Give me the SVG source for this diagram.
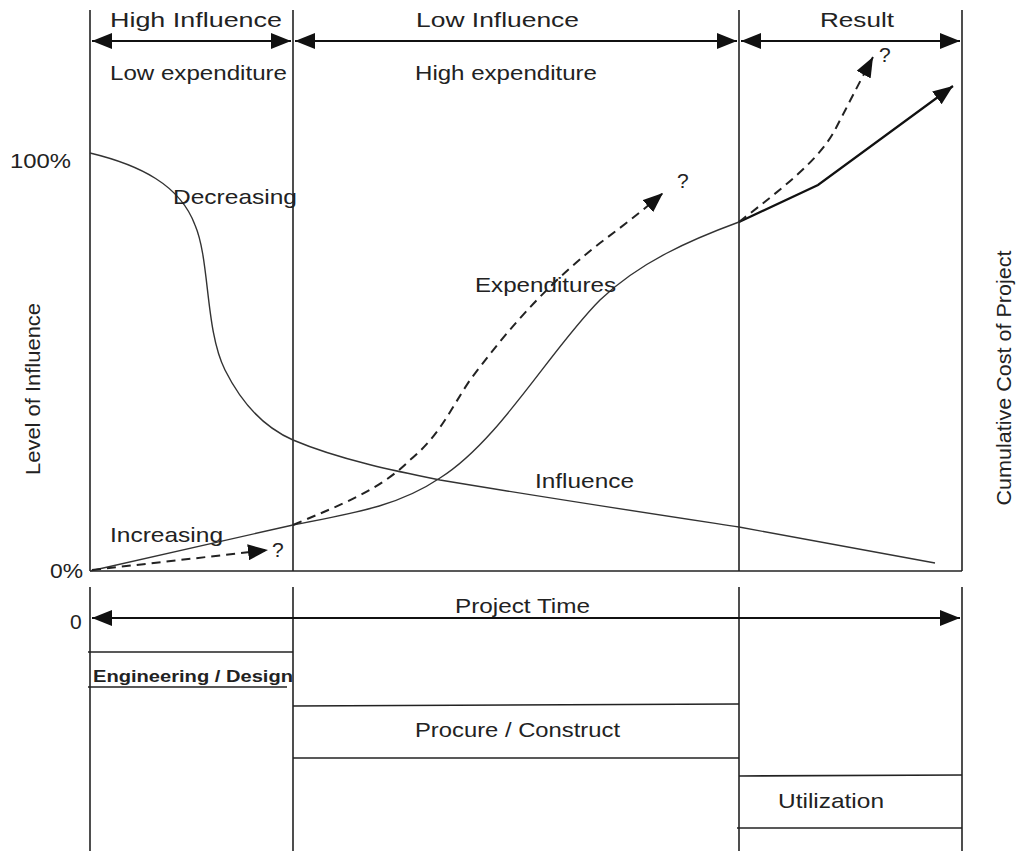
<svg xmlns="http://www.w3.org/2000/svg" width="1030" height="851" viewBox="0 0 1030 851">
<style>
text{font-family:"Liberation Sans",Arial,sans-serif;fill:#222;}
.lbl{font-size:21px;}
.frame{stroke:#222;stroke-width:1.6;fill:none;}
.curve{stroke:#333;stroke-width:1.4;fill:none;}
.dash{stroke:#222;stroke-width:2;fill:none;stroke-dasharray:9 6;}
.arr{stroke:#111;stroke-width:2.2;fill:none;}
</style>
<defs>
<marker id="big" viewBox="0 0 10 10" refX="10" refY="5" markerWidth="20" markerHeight="16" orient="auto-start-reverse" markerUnits="userSpaceOnUse" preserveAspectRatio="none">
<path d="M0,0 L10,5 L0,10 Z" fill="#111"/>
</marker>
</defs>
<rect width="1030" height="851" fill="#fff"/>
<g id="frame">
<line class="frame" x1="90" y1="10" x2="90" y2="571" stroke="#555" stroke-width="2"/>
<line class="frame" x1="293" y1="10" x2="293" y2="571"/>
<line class="frame" x1="739" y1="10" x2="739" y2="571"/>
<line class="frame" x1="962" y1="10" x2="962" y2="571"/>
<line class="frame" x1="90" y1="571" x2="962" y2="571"/>
<line class="frame" x1="90" y1="587" x2="90" y2="851"/>
<line class="frame" x1="293" y1="587" x2="293" y2="851"/>
<line class="frame" x1="739" y1="587" x2="739" y2="851"/>
<line class="frame" x1="962" y1="587" x2="962" y2="851"/>
</g>
<g id="connectors">
<line class="arr" x1="92" y1="41" x2="291" y2="41" marker-start="url(#big)" marker-end="url(#big)"/>
<line class="arr" x1="295" y1="41" x2="737" y2="41" marker-start="url(#big)" marker-end="url(#big)"/>
<line class="arr" x1="741" y1="41" x2="960" y2="41" marker-start="url(#big)" marker-end="url(#big)"/>
<line class="arr" x1="92" y1="618" x2="960" y2="618" marker-start="url(#big)" marker-end="url(#big)"/>
</g>
<g id="influence-curve">
<path class="curve" d="M90,153 C140,165 180,185 195,225 C210,260 205,330 225,370 C245,410 270,430 293,440 C340,460 400,472 440,480 C560,500 680,518 739,527 L935,563"/>
</g>
<g id="expenditure-curve">
<path class="curve" d="M90,571 L293,525 C360,512 400,505 440,478 C500,440 550,350 600,300 C640,262 690,240 739,222"/>
<polyline class="arr" points="739,222 818,185 953,86" marker-end="url(#big)" stroke-width="2"/>
</g>
<g id="dashed-arrows">
<path class="dash" d="M92,570 L268,550" marker-end="url(#big)"/>
<path class="dash" d="M293,525 C340,505 380,490 410,460 C440,435 450,410 470,380 C500,340 540,290 600,243 C620,228 640,213 663,193" marker-end="url(#big)"/>
<path class="dash" d="M739,222 C780,190 820,160 836,128 C848,105 858,85 873,57" marker-end="url(#big)"/>
</g>
<g id="labels">
<text class="lbl" x="110" y="27" font-size="22" textLength="172" lengthAdjust="spacingAndGlyphs">High Influence</text>
<text class="lbl" x="416" y="27" font-size="22" textLength="163" lengthAdjust="spacingAndGlyphs">Low Influence</text>
<text class="lbl" x="820" y="27" font-size="22" textLength="74" lengthAdjust="spacingAndGlyphs">Result</text>
<text class="lbl" x="110" y="80" textLength="177" lengthAdjust="spacingAndGlyphs">Low expenditure</text>
<text class="lbl" x="415" y="80" textLength="182" lengthAdjust="spacingAndGlyphs">High expenditure</text>
<text class="lbl" x="10" y="168" textLength="61" lengthAdjust="spacingAndGlyphs">100%</text>
<text class="lbl" x="50" y="578" textLength="33" lengthAdjust="spacingAndGlyphs">0%</text>
<text class="lbl" x="70" y="629">0</text>
<text class="lbl" x="173" y="204" textLength="124" lengthAdjust="spacingAndGlyphs">Decreasing</text>
<text class="lbl" x="475" y="292" textLength="141" lengthAdjust="spacingAndGlyphs">Expenditures</text>
<text class="lbl" x="535" y="488" textLength="99" lengthAdjust="spacingAndGlyphs">Influence</text>
<text class="lbl" x="110" y="542" textLength="113" lengthAdjust="spacingAndGlyphs">Increasing</text>
<text class="lbl" x="272" y="557">?</text>
<text class="lbl" x="677" y="188">?</text>
<text class="lbl" x="879" y="62">?</text>
<text class="lbl" x="40" y="389" font-size="19" text-anchor="middle" textLength="172" lengthAdjust="spacingAndGlyphs" transform="rotate(-90 40 389)">Level of Influence</text>
<text class="lbl" x="1011" y="378" font-size="19" text-anchor="middle" textLength="255" lengthAdjust="spacingAndGlyphs" transform="rotate(-90 1011 378)">Cumulative Cost of Project</text>
<text class="lbl" x="455" y="613" textLength="135" lengthAdjust="spacingAndGlyphs">Project Time</text>
</g>
<g id="engineering-design">
<line class="frame" x1="88" y1="652" x2="293" y2="652"/>
<line class="frame" x1="88" y1="687" x2="287" y2="687"/>
<text x="93" y="682" font-size="17" font-weight="bold" textLength="200" lengthAdjust="spacingAndGlyphs">Engineering / Design</text>
</g>
<g id="procure-construct">
<line class="frame" x1="293" y1="706" x2="739" y2="704"/>
<line class="frame" x1="293" y1="758" x2="739" y2="758"/>
<text class="lbl" x="415" y="737" textLength="205" lengthAdjust="spacingAndGlyphs">Procure / Construct</text>
</g>
<g id="utilization">
<line class="frame" x1="739" y1="776" x2="962" y2="775"/>
<line class="frame" x1="737" y1="828" x2="962" y2="828"/>
<text class="lbl" x="778" y="808" textLength="106" lengthAdjust="spacingAndGlyphs">Utilization</text>
</g>
</svg>
